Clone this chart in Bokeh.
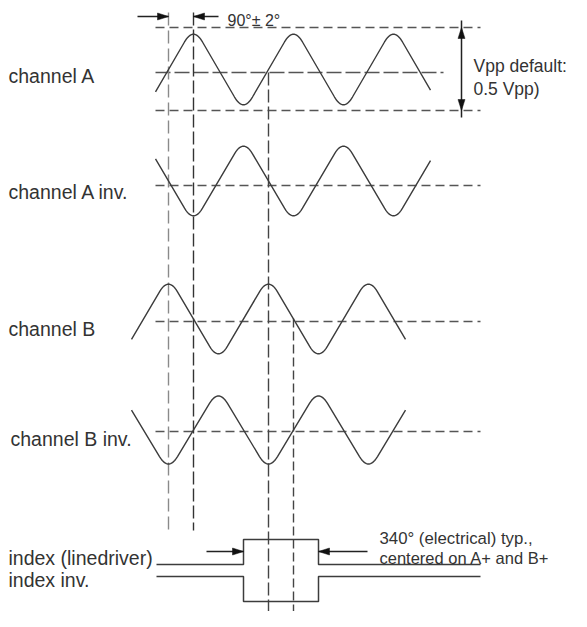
import numpy as np
from bokeh.plotting import figure
from bokeh.models import Range1d
from bokeh.core.properties import value
from bokeh.embed import file_html
from bokeh.resources import INLINE

# ---------------- data (screen-like diagram units) ----------------
channel_names = ["channel A", "channel A inv.", "channel B", "channel B inv."]
channel_center = [69, 180.5, 318.5, 429.5]
channel_amp = [43, 42.5, 42.5, 41.5]
channel_tips_x = [[193, 243, 293, 343, 393],
                  [193, 243, 293, 343, 393],
                  [168, 218, 268, 318, 368],
                  [168, 218, 268, 318, 368]]
channel_first_sign = [1, -1, 1, -1]          # +1: first tip is a peak
channel_start = [155, 155, 131, 131]
channel_end = [430, 430, 405, 405]
half_period = 50

label_text = ["channel A", "channel A inv.", "channel B", "channel B inv.",
              "index (linedriver)", "index inv."]
label_x = [8, 8, 8, 10, 8, 8]
label_y = [75, 191, 328, 438, 557, 579]

# horizontal guide lines: y, x0, x1, dash
hguide_y = [27, 110, 72, 185, 321, 431]
hguide_x0 = [155, 155, 155, 155, 155, 155]
hguide_x1 = [480, 480, 443, 480, 480, 480]
hguide_dash = ["9 5", "9 5", "15 4", "9 5", "9 5", "9 5"]

# vertical guide lines: x, y0, y1, dash, colour
vguide_x = [168, 193, 268, 293]
vguide_y0 = [12, 12, 72, 318]
vguide_y1 = [530, 530, 640, 640]
vguide_dash = ["13 5", "13 4", "13 4", "9 4"]
vguide_color = ["#8a8a8a", "#333333", "#444444", "#444444"]

# index pulse
index_x0, index_x1 = 156, 480
pulse_start, pulse_end = 243, 318
index_base, index_high = 564, 539
inv_base, inv_low = 576, 601

# arrows: tail (x,y) -> tip (x,y)
arrow_tail = [(137, 16), (218, 16), (206, 551), (367, 551)]
arrow_tip = [(168, 16), (193, 16), (243, 551), (318, 551)]
vpp_x, vpp_top, vpp_bottom = 461, 27, 110

notes = ["90°± 2°", "Vpp default:", "0.5 Vpp)", "340° (electrical) typ.,", "centered on A+ and B+"]
notes_x = [227, 473, 473, 379, 379]
notes_y = [20, 65, 88, 538, 557]
notes_size = ["16px", "17.5px", "17.5px", "16.8px", "16.5px"]

INK = "#3c3c3c"
FONT = value("Liberation Sans")

p = figure(width=571, height=611, output_backend="svg", toolbar_location=None,
           x_range=Range1d(0, 571), y_range=Range1d(611, 0),
           x_axis_location=None, y_axis_location=None, title=None,
           min_border=0, outline_line_color=None)
p.grid.visible = False
p.background_fill_color = "white"


def wave(center, amp, tips, sign, x0, x1, r=9):
    tips = list(tips)
    signs = [sign * (1 if i % 2 == 0 else -1) for i in range(len(tips))]
    ext_x = [tips[0] - half_period] + tips + [tips[-1] + half_period]
    ext_s = [-signs[0]] + signs + [-signs[-1]]
    ext_y = [center - s * amp for s in ext_s]

    def f(x):
        return float(np.interp(x, ext_x, ext_y))

    xs, ys = [x0], [f(x0)]
    t = np.linspace(0, 1, 14)
    for tx in tips:
        ax, bx = tx - r, tx + r
        ay, by, cy = f(ax), f(bx), f(tx)
        bxs = (1 - t) ** 2 * ax + 2 * (1 - t) * t * tx + t ** 2 * bx
        bys = (1 - t) ** 2 * ay + 2 * (1 - t) * t * cy + t ** 2 * by
        xs += list(bxs)
        ys += list(bys)
    xs.append(x1)
    ys.append(f(x1))
    return xs, ys


# guides
for y, a, b, d in zip(hguide_y, hguide_x0, hguide_x1, hguide_dash):
    p.line([a, b], [y, y], line_color="#555555", line_width=1.3, line_dash=d)
for x, a, b, d, c in zip(vguide_x, vguide_y0, vguide_y1, vguide_dash, vguide_color):
    p.line([x, x], [a, b], line_color=c, line_width=1.4, line_dash=d)

# waves
for c, a, tips, s, x0, x1 in zip(channel_center, channel_amp, channel_tips_x,
                                   channel_first_sign, channel_start, channel_end):
    xs, ys = wave(c, a, tips, s, x0, x1)
    p.line(xs, ys, line_color=INK, line_width=1.4)

# index signals
p.line([index_x0, pulse_start, pulse_start, pulse_end, pulse_end, index_x1],
       [index_base, index_base, index_high, index_high, index_base, index_base],
       line_color=INK, line_width=1.5)
p.line([index_x0, pulse_start, pulse_start, pulse_end, pulse_end, index_x1],
       [inv_base, inv_base, inv_low, inv_low, inv_base, inv_base],
       line_color=INK, line_width=1.5)


def head(tip, tail, L=11, W=3.5):
    tx, ty = tip
    dx, dy = tip[0] - tail[0], tip[1] - tail[1]
    n = (dx ** 2 + dy ** 2) ** 0.5
    ux, uy = dx / n, dy / n
    bx, by = tx - ux * L, ty - uy * L
    px, py = -uy, ux
    return [tx, bx + px * W, bx - px * W], [ty, by + py * W, by - py * W]


hx, hy = [], []
for tail, tip in zip(arrow_tail, arrow_tip):
    p.line([tail[0], tip[0]], [tail[1], tip[1]], line_color="#222222", line_width=1.5)
    a, b = head(tip, tail)
    hx.append(a)
    hy.append(b)
# Vpp double arrow
p.line([vpp_x, vpp_x], [vpp_top - 7, vpp_bottom + 7], line_color="#222222", line_width=1.5)
for tip, tail in [((vpp_x, vpp_top), (vpp_x, vpp_top + 20)), ((vpp_x, vpp_bottom), (vpp_x, vpp_bottom - 20))]:
    a, b = head(tip, tail)
    hx.append(a)
    hy.append(b)
p.patches(hx, hy, fill_color="#111111", line_color="#111111", line_width=0.5)

# texts
p.text(x=label_x, y=label_y, text=label_text, text_font=FONT, text_font_size="19.5px",
       text_color="#333333", text_baseline="alphabetic", text_align="left")
for t, x, y, s in zip(notes, notes_x, notes_y, notes_size):
    p.text(x=[x], y=[y], text=[t], text_font=FONT, text_font_size=s,
           text_color="#333333", text_baseline="alphabetic", text_align="left")

open("out.html", "w").write(file_html(p, INLINE))
